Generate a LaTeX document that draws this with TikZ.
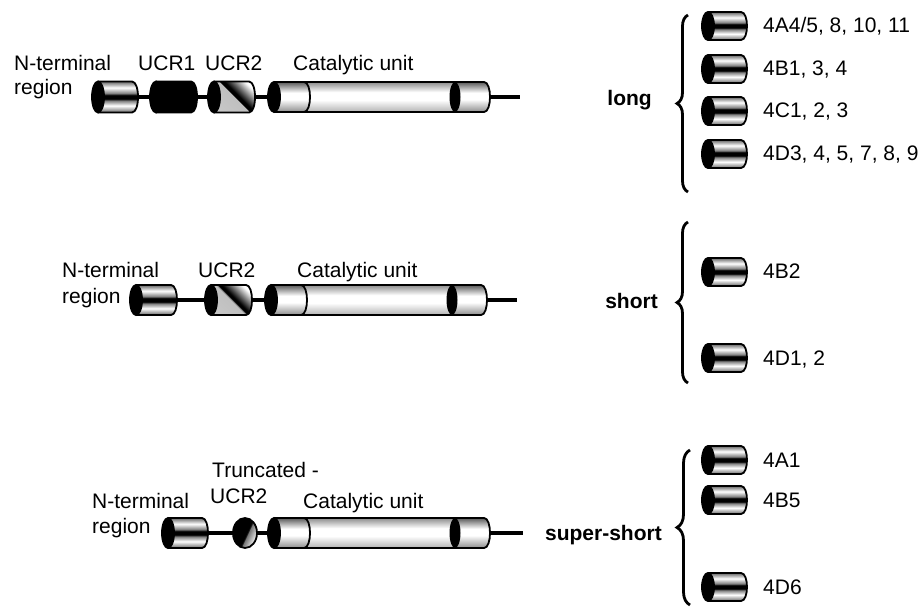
\documentclass[tikz,border=0pt]{standalone}
\usepackage{fontspec}
\setmainfont{Liberation Sans}
\usetikzlibrary{decorations.pathreplacing}

\pgfdeclareverticalshading{bandsh}{100bp}{color(0bp)=(black!60); color(25bp)=(black!60); color(36bp)=(white); color(44bp)=(black!50); color(47bp)=(black); color(53bp)=(black); color(56bp)=(black!50); color(65bp)=(white); color(75bp)=(black!60); color(100bp)=(black!60)}
\pgfdeclareverticalshading{catsh}{100bp}{color(0bp)=(black!45); color(25bp)=(black!45); color(46bp)=(white); color(57bp)=(white); color(75bp)=(black!65); color(100bp)=(black!65)}
\pgfdeclareverticalshading{catmid}{100bp}{color(0bp)=(black!30); color(25bp)=(black!30); color(45bp)=(white); color(58bp)=(white); color(75bp)=(black!45); color(100bp)=(black!45)}
\pgfdeclareverticalshading{solidsh}{100bp}{color(0bp)=(black); color(100bp)=(black)}
\pgfdeclarehorizontalshading{diagsh}{100bp}{color(0bp)=(black!20); color(49bp)=(black!25); color(50bp)=(black); color(54bp)=(black); color(74bp)=(white); color(100bp)=(white)}
\pgfdeclarehorizontalshading{truncsh}{100bp}{color(0bp)=(black); color(54bp)=(black); color(56bp)=(black!55); color(75bp)=(white); color(100bp)=(white)}

% one cylinder: name, left x, right x, y, half height, shading
\newcommand{\cylseg}[6]{%
  \node[dom, minimum width={(#3-#2)*1pt}, minimum height={2*#5*1pt}] (#1) at ({(#2+#3)/2},#4) {};
  \shade[shading=#6] ({#2+6},{#4-#5}) -- ({#3-6},{#4-#5}) .. controls ({#3+2},{#4-#5}) and ({#3+2},{#4+#5}) .. ({#3-6},{#4+#5}) -- ({#2+6},{#4+#5}) -- cycle;
  \fill ({#2+6},#4) ellipse [x radius=6pt, y radius=#5pt];
  \draw[rim] ({#2+6},{#4-#5}) -- ({#3-6},{#4-#5}) .. controls ({#3+2},{#4-#5}) and ({#3+2},{#4+#5}) .. ({#3-6},{#4+#5}) -- ({#2+6},{#4+#5});
  \draw[rim] ({#2+6},#4) ellipse [x radius=6pt, y radius=#5pt];
}

% catalytic unit: name, left x, y
\newcommand{\catunit}[3]{%
  \node[dom, minimum width=222pt, minimum height=30pt] (#1) at ({#2+111},#3) {};
  \shade[shading=catsh] ({#2+6},{#3-15}) -- ({#2+216},{#3-15}) .. controls ({#2+224},{#3-15}) and ({#2+224},{#3+15}) .. ({#2+216},{#3+15}) -- ({#2+6},{#3+15}) -- cycle;
  \shade[shading=catmid] ({#2+36},{#3-15}) -- ({#2+186},{#3-15}) -- ({#2+186},{#3+15}) -- ({#2+36},{#3+15}) .. controls ({#2+44},{#3+15}) and ({#2+44},{#3-15}) .. ({#2+36},{#3-15}) -- cycle;
  \draw[rim] ({#2+36},{#3-15}) .. controls ({#2+44},{#3-15}) and ({#2+44},{#3+15}) .. ({#2+36},{#3+15});
  \fill ({#2+187},#3) ellipse [x radius=5.5pt, y radius=15pt];
  \fill ({#2+6},#3) ellipse [x radius=6pt, y radius=15pt];
  \draw[rim] ({#2+6},{#3-15}) -- ({#2+216},{#3-15}) .. controls ({#2+224},{#3-15}) and ({#2+224},{#3+15}) .. ({#2+216},{#3+15}) -- ({#2+6},{#3+15});
  \draw[rim] ({#2+6},#3) ellipse [x radius=6pt, y radius=15pt];
}

\begin{document}
\begin{tikzpicture}[x=1pt, y=-1pt, every node/.style={font=\fontsize{21}{25}\selectfont}]
            \tikzstyle{dom}=[inner sep=0pt, outer sep=0pt]
            \tikzstyle{lbl}=[anchor=base west, inner sep=0pt]
            \tikzstyle{cls}=[anchor=base east, inner sep=0pt, font=\fontsize{21}{25}\selectfont\bfseries]
            \tikzstyle{link}=[line width=3.6pt]
            \tikzstyle{rim}=[line width=1.8pt]
            \tikzstyle{brc}=[decorate, decoration={brace, amplitude=11pt}, line width=2.8pt]
            \useasboundingbox (0,0) rectangle (923,612);

            % long
            \node[lbl] (nta) at (14,71) {N-terminal};
            \node[lbl] (rga) at (14,95) {region};
            \node[lbl] (uoa) at (138,71) {UCR1};
            \node[lbl] (uta) at (205,71) {UCR2};
            \node[lbl] (cta) at (293,71) {Catalytic unit};
            \cylseg{nt1}{92}{138}{97}{15.5}{bandsh}
            \cylseg{ucr1}{150}{197}{97}{15.5}{solidsh}
            \node[dom, minimum width=47pt, minimum height=31pt] (ucr21) at (231.5,97) {};
            \shade[shading=diagsh, shading angle=45] (214,81.5) -- (249,81.5) .. controls (257,81.5) and (257,112.5) .. (249,112.5) -- (214,112.5) -- cycle;
            \fill (214,97) ellipse [x radius=6pt, y radius=15.5pt];
            \draw[rim] (214,81.5) -- (249,81.5) .. controls (257,81.5) and (257,112.5) .. (249,112.5) -- (214,112.5);
            \draw[rim] (214,97) ellipse [x radius=6pt, y radius=15.5pt];
            \catunit{cat1}{268}{97}
            \coordinate (tail1) at (520,97);
            \path[link] (nt1.east) edge (ucr1.west) (ucr1.east) edge (ucr21.west) (ucr21.east) edge (cat1.west) (cat1.east) edge (tail1);

            % short
            \node[lbl] (ntb) at (62,277) {N-terminal};
            \node[lbl] (rgb) at (62,303) {region};
            \node[lbl] (utb) at (198,277) {UCR2};
            \node[lbl] (ctb) at (297,277) {Catalytic unit};
            \cylseg{nt2}{130}{177}{300}{15}{bandsh}
            \node[dom, minimum width=47pt, minimum height=30pt] (ucr22) at (228.5,300) {};
            \shade[shading=diagsh, shading angle=45] (211,285) -- (246,285) .. controls (254,285) and (254,315) .. (246,315) -- (211,315) -- cycle;
            \fill (211,300) ellipse [x radius=6pt, y radius=15pt];
            \draw[rim] (211,285) -- (246,285) .. controls (254,285) and (254,315) .. (246,315) -- (211,315);
            \draw[rim] (211,300) ellipse [x radius=6pt, y radius=15pt];
            \catunit{cat2}{265}{300}
            \coordinate (tail2) at (517,300);
            \path[link] (nt2.east) edge (ucr22.west) (ucr22.east) edge (cat2.west) (cat2.east) edge (tail2);

            % super-short
            \node[lbl] (ntc) at (92,508) {N-terminal};
            \node[lbl] (rgc) at (92,533) {region};
            \node[lbl] (trc) at (212,477) {Truncated -};
            \node[lbl] (utc) at (210,503) {UCR2};
            \node[lbl] (ctc) at (303,508) {Catalytic unit};
            \cylseg{nt3}{162}{208}{533}{15}{bandsh}
            \node[dom, minimum width=24pt, minimum height=30pt] (tucr) at (245,533) {};
            \shade[shading=truncsh, shading angle=-25] (tucr.center) ellipse [x radius=12pt, y radius=15pt];
            \draw[rim] (tucr.center) ellipse [x radius=12pt, y radius=15pt];
            \catunit{cat3}{268}{533}
            \coordinate (tail3) at (523,533);
            \path[link] (nt3.east) edge (tucr.west) (tucr.east) edge (cat3.west) (cat3.east) edge (tail3);

            % groups
            \node[cls] (lng) at (652,106) {long};
            \node[cls] (sht) at (658,308) {short};
            \node[cls] (sst) at (662,540) {super-short};
            \coordinate (b1s) at (688,192); \coordinate (b1n) at (688,15);
            \coordinate (b2s) at (688,383); \coordinate (b2n) at (688,222);
            \coordinate (b3s) at (690,605); \coordinate (b3n) at (690,450);
            \draw[brc] (b1s) -- (b1n);
            \draw[brc] (b2s) -- (b2n);
            \draw[brc, decoration={amplitude=13pt}] (b3s) -- (b3n);

            \cylseg{ia}{702}{747}{26}{14}{bandsh}
            \cylseg{ib}{702}{747}{69}{14}{bandsh}
            \cylseg{ic}{702}{747}{111}{14}{bandsh}
            \cylseg{id}{702}{747}{154}{14}{bandsh}
            \cylseg{iib}{702}{747}{272}{14}{bandsh}
            \cylseg{iid}{702}{747}{358}{14}{bandsh}
            \cylseg{iiia}{702}{747}{460}{14}{bandsh}
            \cylseg{iiib}{702}{747}{500}{14}{bandsh}
            \cylseg{iiid}{702}{747}{587}{14}{bandsh}
            \node[lbl] (la) at (763,33) {4A4/5, 8, 10, 11};
            \node[lbl] (lb) at (763,76) {4B1, 3, 4};
            \node[lbl] (lc) at (763,118) {4C1, 2, 3};
            \node[lbl] (ld) at (763,161) {4D3, 4, 5, 7, 8, 9};
            \node[lbl] (lib) at (763,279) {4B2};
            \node[lbl] (lid) at (763,365) {4D1, 2};
            \node[lbl] (liiia) at (763,467) {4A1};
            \node[lbl] (liiib) at (763,507) {4B5};
            \node[lbl] (liiid) at (763,594) {4D6};
        \end{tikzpicture}
\end{document}
